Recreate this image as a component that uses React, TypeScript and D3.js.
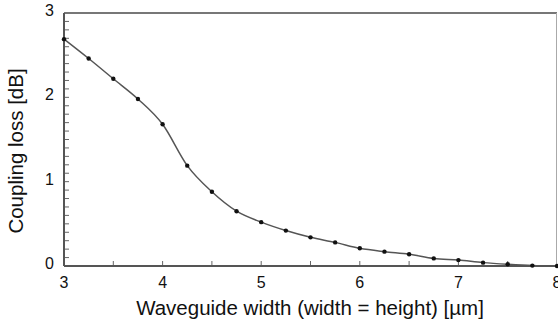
import { useEffect, useRef } from "react";
import * as d3 from "d3";

const widths = [3, 3.25, 3.5, 3.75, 4, 4.25, 4.5, 4.75, 5, 5.25, 5.5, 5.75, 6, 6.25, 6.5, 6.75, 7, 7.25, 7.5, 7.75, 8];
const losses = [2.69, 2.46, 2.22, 1.98, 1.68, 1.19, 0.88, 0.65, 0.52, 0.42, 0.34, 0.28, 0.21, 0.17, 0.14, 0.09, 0.07, 0.04, 0.02, 0.005, 0.0];
const xTicks = [3, 4, 5, 6, 7, 8];
const yTicks = [0, 1, 2, 3];

export default function App() {
  const svgRef = useRef<SVGSVGElement | null>(null);

  useEffect(() => {
    const width = 558;
    const height = 324;
    const margin = { top: 13, right: 1, bottom: 58, left: 64 };
    const font = "'Liberation Sans', Arial, sans-serif";

    const svg = d3.select(svgRef.current);
    svg.selectAll("*").remove();

    const x = d3.scaleLinear().domain([3, 8]).range([margin.left, width - margin.right]);
    const y = d3.scaleLinear().domain([0, 3]).range([height - margin.bottom, margin.top]);

    const data = widths.map((w, i) => ({ w, v: losses[i] }));

    // frame
    svg
      .append("line")
      .attr("x1", x(3))
      .attr("x2", x(8))
      .attr("y1", y(3))
      .attr("y2", y(3))
      .attr("stroke", "#777")
      .attr("stroke-width", 2);
    svg
      .append("line")
      .attr("x1", x(8) - 0.5)
      .attr("x2", x(8) - 0.5)
      .attr("y1", y(3))
      .attr("y2", y(0))
      .attr("stroke", "#aaa")
      .attr("stroke-width", 1);

    // minor ticks (inside)
    const yMinor = d3.range(0, 30).map((d) => d / 10);
    svg
      .append("g")
      .selectAll("line")
      .data(yMinor)
      .join("line")
      .attr("x1", x(3))
      .attr("x2", x(3) + 5)
      .attr("y1", (d) => y(d))
      .attr("y2", (d) => y(d))
      .attr("stroke", "#666")
      .attr("stroke-width", 1);
    const xMinor = d3.range(6, 16).map((d) => d / 2);
    svg
      .append("g")
      .selectAll("line")
      .data(xMinor)
      .join("line")
      .attr("x1", (d) => x(d))
      .attr("x2", (d) => x(d))
      .attr("y1", y(0))
      .attr("y2", y(0) - 5)
      .attr("stroke", "#666")
      .attr("stroke-width", 1);

    // axes lines
    svg
      .append("line")
      .attr("x1", x(3))
      .attr("x2", x(3))
      .attr("y1", y(3))
      .attr("y2", y(0))
      .attr("stroke", "#555")
      .attr("stroke-width", 2);
    svg
      .append("line")
      .attr("x1", x(3))
      .attr("x2", x(8))
      .attr("y1", y(0))
      .attr("y2", y(0))
      .attr("stroke", "#555")
      .attr("stroke-width", 2);

    // tick labels
    svg
      .append("g")
      .selectAll("text")
      .data(xTicks)
      .join("text")
      .attr("x", (d) => x(d))
      .attr("y", y(0) + 22)
      .attr("text-anchor", "middle")
      .attr("font-family", font)
      .attr("font-size", 16)
      .attr("fill", "#111")
      .text((d) => d);
    svg
      .append("g")
      .selectAll("text")
      .data(yTicks)
      .join("text")
      .attr("x", x(3) - 10)
      .attr("y", (d) => y(d) + 3)
      .attr("text-anchor", "end")
      .attr("font-family", font)
      .attr("font-size", 16)
      .attr("fill", "#111")
      .text((d) => d);

    // axis titles
    svg
      .append("text")
      .attr("x", 310)
      .attr("y", 315)
      .attr("text-anchor", "middle")
      .attr("font-family", font)
      .attr("font-size", 20.5)
      .attr("fill", "#111")
      .text("Waveguide width (width = height) [µm]");
    svg
      .append("text")
      .attr("transform", "translate(23,151) rotate(-90)")
      .attr("text-anchor", "middle")
      .attr("font-family", font)
      .attr("font-size", 20.5)
      .attr("fill", "#111")
      .text("Coupling loss [dB]");

    // curve
    const line = d3
      .line<{ w: number; v: number }>()
      .x((d) => x(d.w))
      .y((d) => y(d.v))
      .curve(d3.curveMonotoneX);
    svg
      .append("path")
      .datum(data)
      .attr("d", line)
      .attr("fill", "none")
      .attr("stroke", "#555")
      .attr("stroke-width", 1.5);

    svg
      .append("g")
      .selectAll("circle")
      .data(data)
      .join("circle")
      .attr("cx", (d) => x(d.w))
      .attr("cy", (d) => y(d.v))
      .attr("r", 2.2)
      .attr("fill", "#111");
  }, []);

  return (
    <svg
      ref={svgRef}
      width={558}
      height={324}
      style={{ position: "absolute", left: 0, top: 0, background: "#fff" }}
    />
  );
}
